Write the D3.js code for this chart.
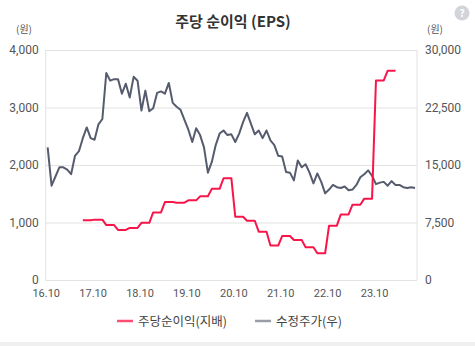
<!DOCTYPE html>
<html><head><meta charset="utf-8">
<script src="https://cdn.jsdelivr.net/npm/d3@7"></script>
<style>
body{margin:0;background:#fff;}
svg{display:block;font-family:"Noto Sans CJK KR","Noto Sans",sans-serif;}
</style></head>
<body><svg id="c" width="475" height="346"></svg>
<script>
// Monthly points from 2016-10 to 2024-08
const startYear = 2016, startMonth = 10;
const price = [17300,12300,13500,14700,14700,14400,13800,16200,16800,18500,
19900,18500,18300,20300,21000,27000,26000,26200,26200,24300,
25600,23800,26500,26000,22100,24700,22000,22400,24400,24600,
24300,25700,23100,22600,22200,20900,19600,18000,19800,18900,
17300,14000,15400,17600,19100,19500,18900,19000,18000,19100,
20600,21800,20400,19000,19500,18500,19500,18200,17600,16200,
16100,14100,14000,13000,15600,14700,15100,14000,12600,13900,
12800,11300,11800,12400,12100,12000,12200,11700,11800,12400,
13400,13800,14300,13600,12500,12700,12800,12300,12900,12400,
12400,12100,12000,12100,12000];
const eps = [null,null,null,null,null,null,null,null,null,1040,
1040,1040,1050,1050,1050,955,955,955,870,870,
870,905,905,905,995,995,995,1175,1175,1175,
1355,1355,1355,1345,1345,1345,1385,1385,1385,1455,
1455,1455,1585,1585,1585,1770,1770,1770,1100,1100,
1100,1030,1030,1030,840,840,840,600,600,600,
765,765,765,695,695,695,570,570,570,465,
465,465,945,945,945,1140,1140,1140,1310,1310,
1310,1415,1415,1415,3470,3470,3470,3640,3640,3640,
null,null,null,null,null];
const xLabels = ["16.10","17.10","18.10","19.10","20.10","21.10","22.10","23.10"];
const leftTicks = [0,1000,2000,3000,4000];
const rightTicks = [0,7500,15000,22500,30000];
const title = "주당 순이익 (EPS)";
const legendNames = ["주당순이익(지배)","수정주가(우)"];

const svg = d3.select("#c");
const L = 45.7, R = 417, T = 50, B = 280;
const n = price.length;
const x = d3.scaleLinear().domain([-0.5, n - 0.5]).range([L, R]);
const yL = d3.scaleLinear().domain([0, 4000]).range([B, T]);
const yR = d3.scaleLinear().domain([0, 30000]).range([B, T]);

// gridlines
const gAxisL = svg.append("g").attr("transform", `translate(${L},0)`)
  .call(d3.axisLeft(yL).tickValues(leftTicks).tickFormat(d3.format(",")).tickSize(-(R - L)).tickPadding(7));
gAxisL.select(".domain").remove();
gAxisL.selectAll("line").attr("stroke", "#e2e2e2").attr("stroke-width", 1);
gAxisL.selectAll("text").attr("fill", "#555").attr("font-size", 12).attr("font-family", "Roboto, 'Noto Sans', sans-serif");

const gAxisR = svg.append("g").attr("transform", `translate(${R},0)`)
  .call(d3.axisRight(yR).tickValues(rightTicks).tickFormat(d3.format(",")).tickSize(0).tickPadding(8));
gAxisR.select(".domain").remove();
gAxisR.selectAll("text").attr("fill", "#555").attr("font-size", 12).attr("font-family", "Roboto, 'Noto Sans', sans-serif");

// plot borders
svg.append("line").attr("x1", L).attr("x2", L).attr("y1", T).attr("y2", B).attr("stroke", "#e2e2e2");
svg.append("line").attr("x1", R).attr("x2", R).attr("y1", T).attr("y2", B).attr("stroke", "#e2e2e2");

// x axis labels
const labelIdx = xLabels.map((d, i) => i * 12 - 0.5);
const gX = svg.append("g").attr("transform", `translate(0,${B})`)
  .call(d3.axisBottom(x).tickValues(labelIdx).tickFormat((d, i) => xLabels[i]).tickSize(0).tickPadding(9));
gX.select(".domain").remove();
gX.selectAll("text").attr("fill", "#555").attr("font-size", 11).attr("font-family", "Roboto, 'Noto Sans', sans-serif");

// lines
const priceLine = d3.line().x((d, i) => x(i)).y(d => yR(d));
svg.append("path").datum(price).attr("d", priceLine)
  .attr("fill", "none").attr("stroke", "#565b6e").attr("stroke-width", 2).attr("stroke-linejoin", "round");

const epsLine = d3.line().defined(d => d != null).x((d, i) => x(i)).y(d => yL(d));
svg.append("path").datum(eps).attr("d", epsLine)
  .attr("fill", "none").attr("stroke", "#f7154a").attr("stroke-width", 2).attr("stroke-linejoin", "round");

// title
svg.append("text").attr("x", 233).attr("y", 27).attr("text-anchor", "middle")
  .attr("font-size", 15).attr("font-weight", "bold").attr("fill", "#333").text(title);
svg.append("text").attr("x", 24).attr("y", 33).attr("text-anchor", "middle")
  .attr("font-size", 10).attr("fill", "#555").text("(원)");
svg.append("text").attr("x", 435).attr("y", 33).attr("text-anchor", "middle")
  .attr("font-size", 10).attr("fill", "#555").text("(원)");

// help icon
svg.append("circle").attr("cx", 462).attr("cy", 13).attr("r", 7.5).attr("fill", "#d3d3da");
svg.append("text").attr("x", 462).attr("y", 17).attr("text-anchor", "middle")
  .attr("font-size", 10).attr("font-weight", "bold").attr("fill", "#fff").text("?");

// legend
const legColors = ["#ff4d73", "#9a9ca6"];
const legX = [117, 255];
legendNames.forEach((name, i) => {
  svg.append("line").attr("x1", legX[i]).attr("x2", legX[i] + 16).attr("y1", 321).attr("y2", 321)
    .attr("stroke", legColors[i]).attr("stroke-width", 2.5);
  svg.append("text").attr("x", legX[i] + 21).attr("y", 325.5)
    .attr("font-size", 12.5).attr("fill", "#444").text(name);
});

// bottom separator
svg.append("rect").attr("x", 0).attr("y", 342).attr("width", 475).attr("height", 4).attr("fill", "#f0f0f0");
</script></body></html>
